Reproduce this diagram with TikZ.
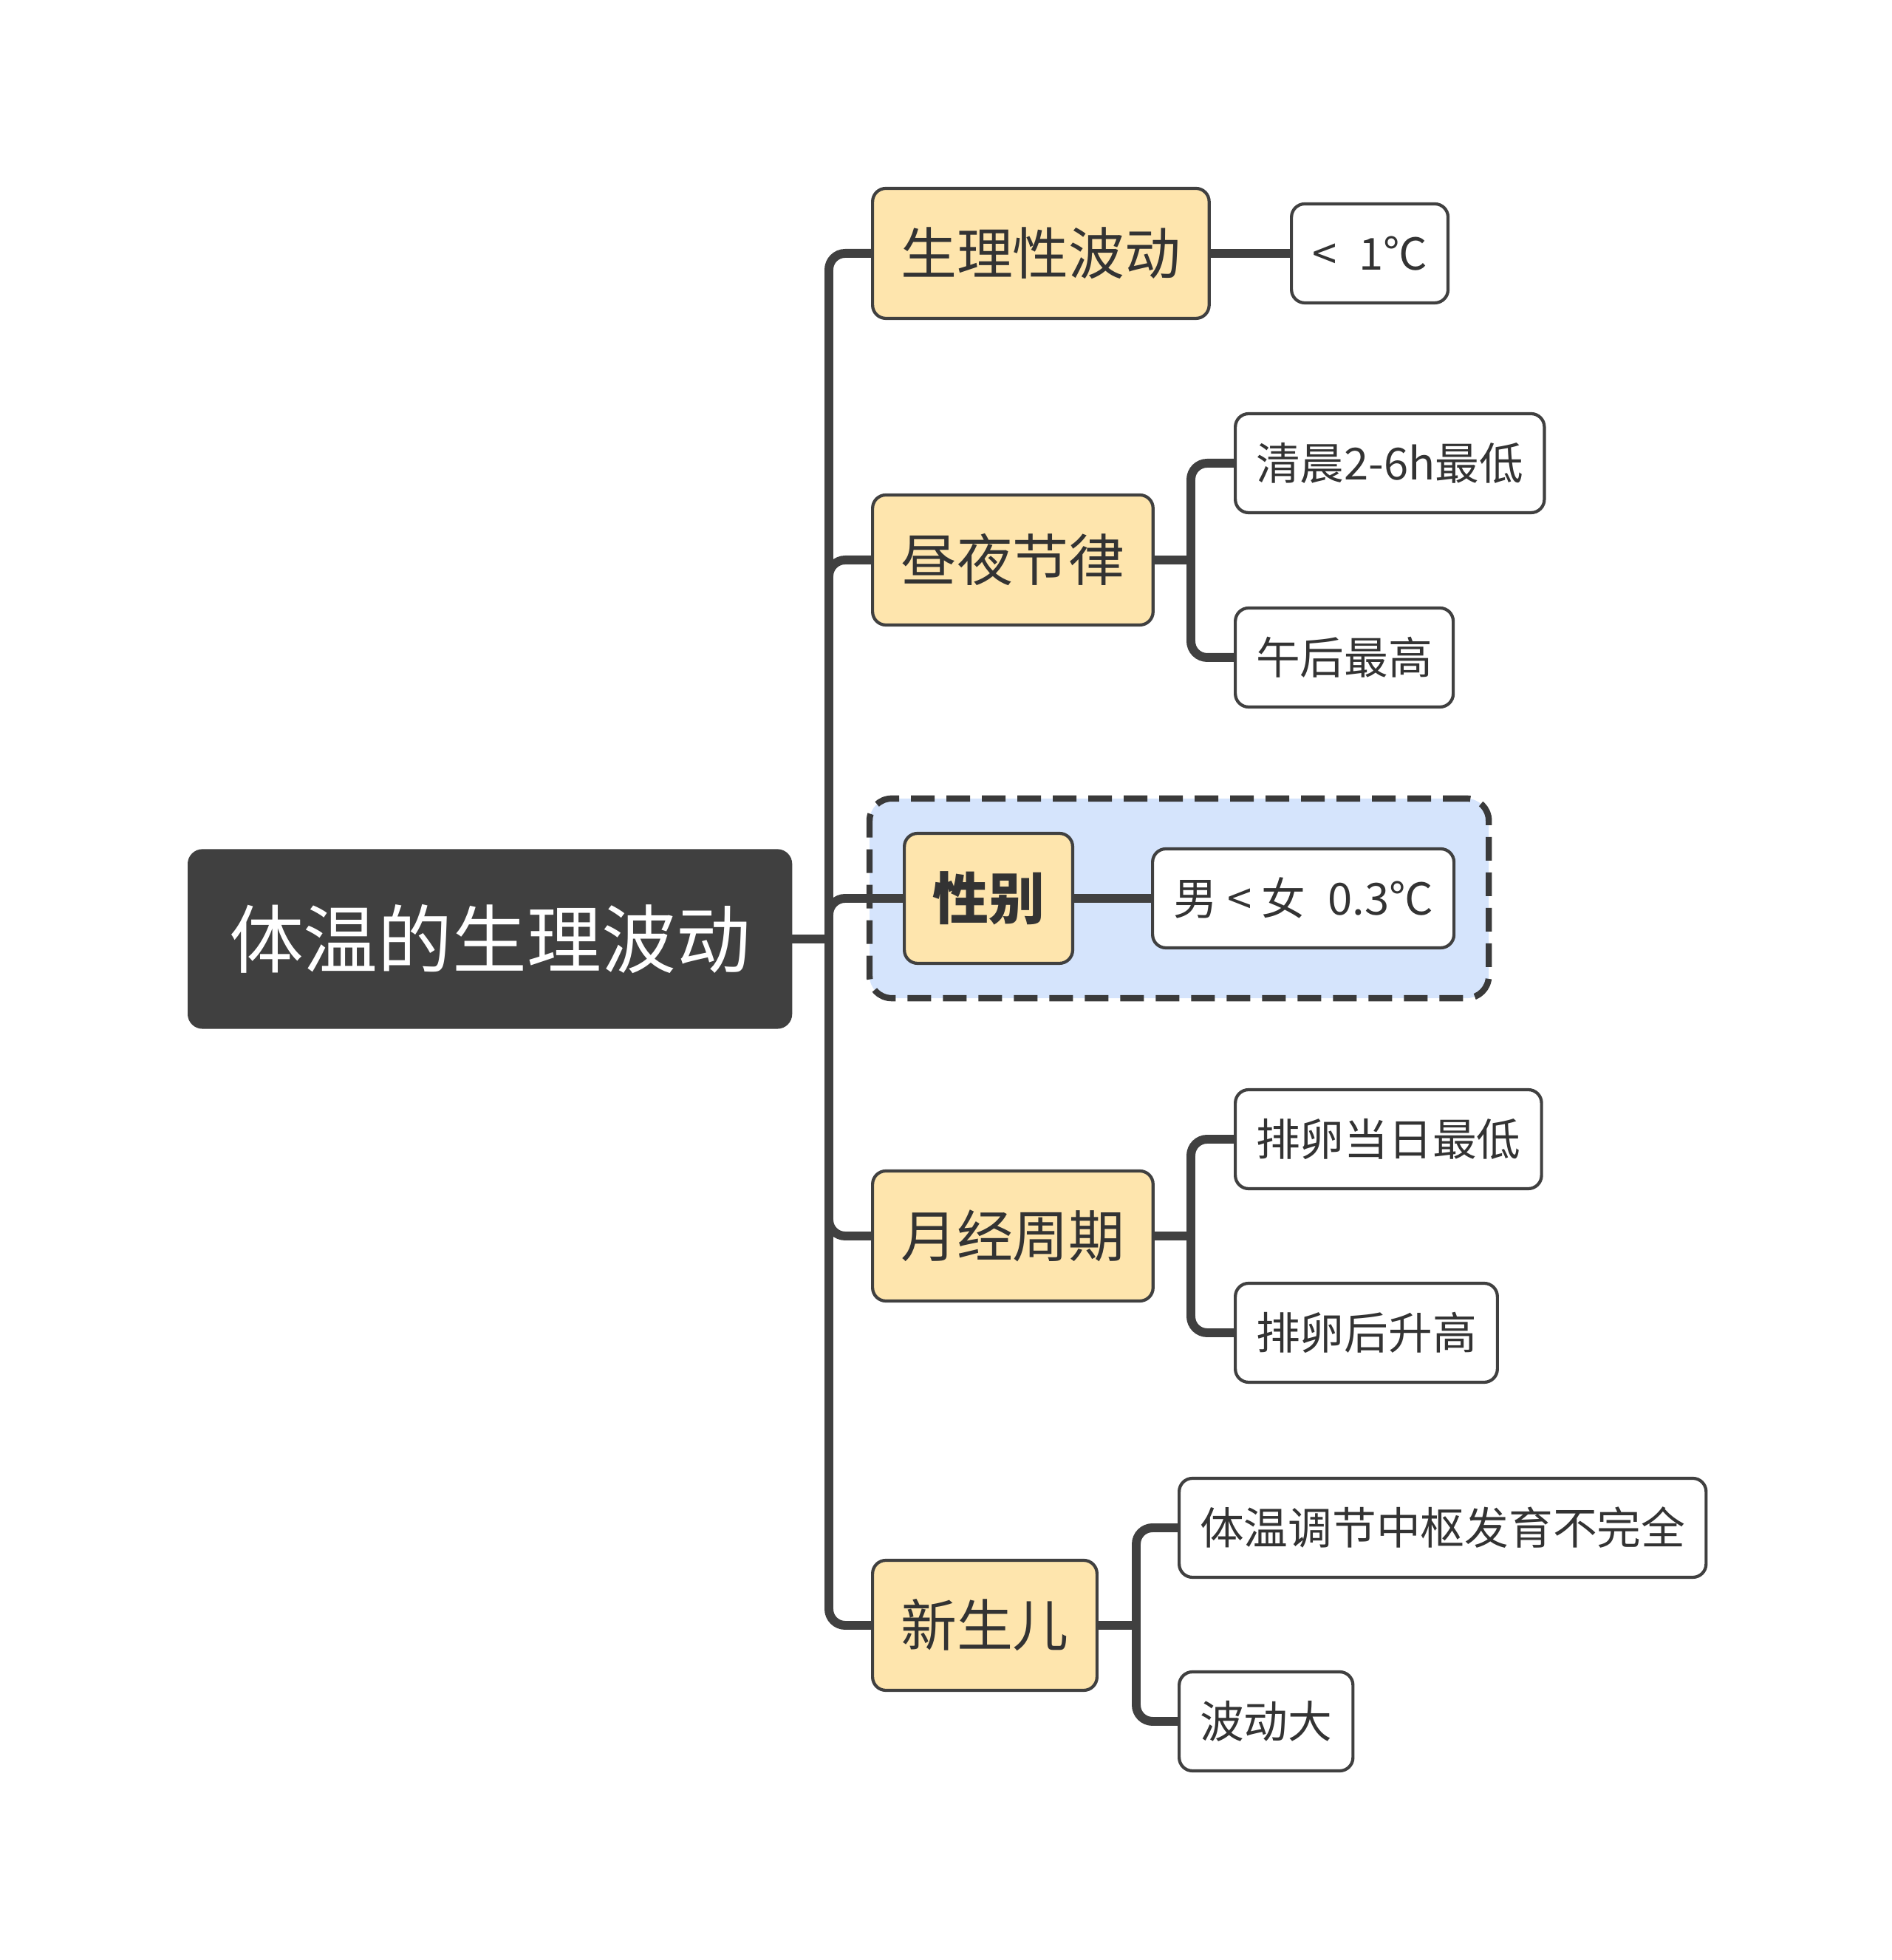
\documentclass[tikz,border=0pt]{standalone}
\usepackage{fontspec}
\setmainfont{Noto Sans CJK SC}
\usetikzlibrary{positioning,fit,backgrounds}
\definecolor{ink}{HTML}{404040}
\definecolor{txt}{HTML}{333333}
\definecolor{topicfill}{HTML}{FEE5AD}
\definecolor{groupfill}{HTML}{D5E4FC}

\begin{document}
\begin{tikzpicture}[
  root/.style={draw=ink,fill=ink,text=white,line width=1.2pt,rounded corners=0.18cm,
    minimum height=2.39cm,inner xsep=0.54cm,anchor=west,font=\fontsize{28.7}{34}\selectfont},
  topic/.style={draw=ink,fill=topicfill,text=txt,line width=1.2pt,rounded corners=0.18cm,
    minimum height=1.76cm,inner xsep=0.38cm,anchor=west,font=\fontsize{21.6}{26}\selectfont},
  leaf/.style={draw=ink,fill=white,text=txt,line width=1.2pt,rounded corners=0.18cm,
    minimum height=1.34cm,inner xsep=0.28cm,anchor=west,font=\fontsize{17}{20}\selectfont},
  sexgroup/.style={draw=ink!90!black,fill=groupfill,line width=2.4pt,dash pattern=on 0.32cm off 0.16cm,
    rounded corners=0.3cm,inner sep=0.45cm},
  link/.style={draw=ink,line width=3.4pt,rounded corners=0.22cm}]
\useasboundingbox (0,0) rectangle (25.6,26.53);

\node[root] (root) at (2.54,13.82) {体温的生理波动};

\node[topic] (wave) at (11.79,23.10) {生理性波动};
\node[topic] (day) at (11.79,18.95) {昼夜节律};
\node[topic,font=\fontsize{21.6}{26}\selectfont\bfseries] (sex) at (12.22,14.37) {性别};
\node[topic] (cycle) at (11.79,9.80) {月经周期};
\node[topic] (baby) at (11.79,4.53) {新生儿};

\node[leaf] (wave1) at (17.46,23.10) {<\enspace 1℃};
\node[leaf] (day1) at (16.70,20.26) {清晨2-6h最低};
\node[leaf] (day2) at (16.70,17.63) {午后最高};
\node[leaf] (sex1) at (15.58,14.37) {男\ <\ 女\enspace 0.3℃};
\node[leaf] (cycle1) at (16.70,11.11) {排卵当日最低};
\node[leaf] (cycle2) at (16.70,8.49) {排卵后升高};
\node[leaf] (baby1) at (15.94,5.85) {体温调节中枢发育不完全};
\node[leaf] (baby2) at (15.94,3.23) {波动大};

\begin{scope}[on background layer]
\node[sexgroup,fit=(sex)(sex1)] (grp) {};
\end{scope}

\coordinate (hub) at (11.22,13.82);
\coordinate (dayhub) at (16.12,18.95);
\coordinate (cyclehub) at (16.12,9.80);
\coordinate (babyhub) at (15.38,4.53);

\draw[link] (root.east) -- (hub);
\foreach \b in {wave,day,sex,cycle,baby}{\draw[link] (hub) |- (\b.west);}
\draw[link] (wave.east) -- (wave1.west);
\draw[link] (sex.east) -- (sex1.west);
\draw[link] (day.east) -- (dayhub);
\foreach \l in {day1,day2}{\draw[link] (dayhub) |- (\l.west);}
\draw[link] (cycle.east) -- (cyclehub);
\foreach \l in {cycle1,cycle2}{\draw[link] (cyclehub) |- (\l.west);}
\draw[link] (baby.east) -- (babyhub);
\foreach \l in {baby1,baby2}{\draw[link] (babyhub) |- (\l.west);}
\end{tikzpicture}
\end{document}
